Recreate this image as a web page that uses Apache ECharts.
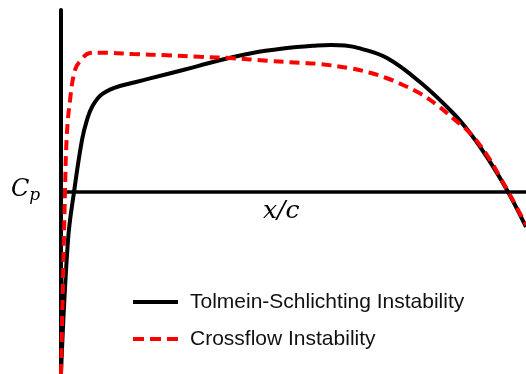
<!DOCTYPE html>
<html>
<head>
<meta charset="utf-8">
<script src="https://cdn.jsdelivr.net/npm/echarts@6/dist/echarts.min.js"></script>
<style>
  html, body { margin: 0; padding: 0; background: #fff; }
  #chart { width: 526px; height: 374px; }
</style>
</head>
<body>
<div id="chart"></div>
<script>
// Chordwise position x/c for each curve and the pressure coefficient Cp
const tsX  = [0, 0.0151, 0.0280, 0.0452, 0.0559, 0.0667, 0.0860, 0.1161, 0.1591, 0.1914, 0.2624, 0.3355, 0.4065, 0.4774, 0.5505, 0.5806, 0.6108, 0.6430, 0.7011, 0.7720, 0.8430, 0.8796, 0.9161, 0.9591, 1.0];
const tsCp = [-0.995, -0.264, 0, 0.286, 0.396, 0.467, 0.533, 0.574, 0.603, 0.624, 0.670, 0.720, 0.761, 0.788, 0.805, 0.808, 0.805, 0.789, 0.736, 0.604, 0.434, 0.324, 0.192, 0.011, -0.192];

const cfX  = [0, 0.0043, 0.0086, 0.0123, 0.0194, 0.0301, 0.0430, 0.0624, 0.0839, 0.1548, 0.2280, 0.2989, 0.3699, 0.4430, 0.5140, 0.5570, 0.6215, 0.6645, 0.7011, 0.7355, 0.7720, 0.8086, 0.8430, 0.8796, 0.9161, 0.9441, 0.9656, 1.0];
const cfCp = [-1, -0.484, 0, 0.302, 0.505, 0.670, 0.725, 0.764, 0.765, 0.758, 0.751, 0.743, 0.735, 0.721, 0.710, 0.703, 0.680, 0.655, 0.625, 0.588, 0.542, 0.478, 0.405, 0.323, 0.203, 0.082, -0.016, -0.181];

const seriesNames = ['Tolmein-Schlichting Instability', 'Crossflow Instability'];

// Legend swatches: a solid bar and a three-dash bar
const solidIcon  = 'path://M0,0H45V4H0Z';
const dashedIcon = 'path://M0,0H11V4H0Z M17,0H28V4H17Z M34,0H45V4H34Z';

const pairs = (xs, ys) => xs.map((x, i) => [x, ys[i]]);

const chart = echarts.init(document.getElementById('chart'), null, { renderer: 'canvas' });

chart.setOption({
  animation: false,
  grid: { left: 61, right: 0, top: 10, bottom: 0 },
  xAxis: {
    type: 'value', min: 0, max: 1,
    axisLine: { show: true, onZero: true, lineStyle: { color: '#000', width: 3.5 } },
    axisTick: { show: false }, axisLabel: { show: false }, splitLine: { show: false }
  },
  yAxis: {
    type: 'value', min: -1, max: 1,
    axisLine: { show: true, onZero: true, lineStyle: { color: '#000', width: 4 } },
    axisTick: { show: false }, axisLabel: { show: false }, splitLine: { show: false }
  },
  legend: {
    orient: 'vertical',
    left: 133, top: 290, padding: 0,
    itemWidth: 45, itemHeight: 4, itemGap: 13,
    textStyle: { fontFamily: 'Liberation Sans', fontSize: 21, lineHeight: 24, color: '#111', padding: [0, 0, 0, 7] },
    data: [
      { name: seriesNames[0], icon: solidIcon, itemStyle: { color: '#000' } },
      { name: seriesNames[1], icon: dashedIcon, itemStyle: { color: '#ff0000' } }
    ]
  },
  series: [
    {
      name: seriesNames[0], type: 'line', data: pairs(tsX, tsCp),
      symbol: 'none', smooth: 0.4,
      lineStyle: { color: '#000', width: 4 },
      itemStyle: { color: '#000' }
    },
    {
      name: seriesNames[1], type: 'line', data: pairs(cfX, cfCp),
      symbol: 'none', smooth: 0.4,
      lineStyle: { color: '#ff0000', width: 4, type: [10, 6] },
      itemStyle: { color: '#ff0000' }
    }
  ],
  graphic: [
    {
      type: 'text', left: 11, top: 178,
      style: {
        text: '{c|C}{p|p}',
        rich: {
          c: { fontFamily: 'DejaVu Serif', fontStyle: 'italic', fontSize: 24, fill: '#000' },
          p: { fontFamily: 'DejaVu Serif', fontStyle: 'italic', fontSize: 17, fill: '#000', padding: [12, 0, 0, 0] }
        }
      }
    },
    {
      type: 'text', left: 263, top: 199,
      style: {
        text: 'x/c',
        fontFamily: 'DejaVu Serif', fontStyle: 'italic', fontSize: 25, fill: '#000'
      }
    }
  ]
});
</script>
</body>
</html>
